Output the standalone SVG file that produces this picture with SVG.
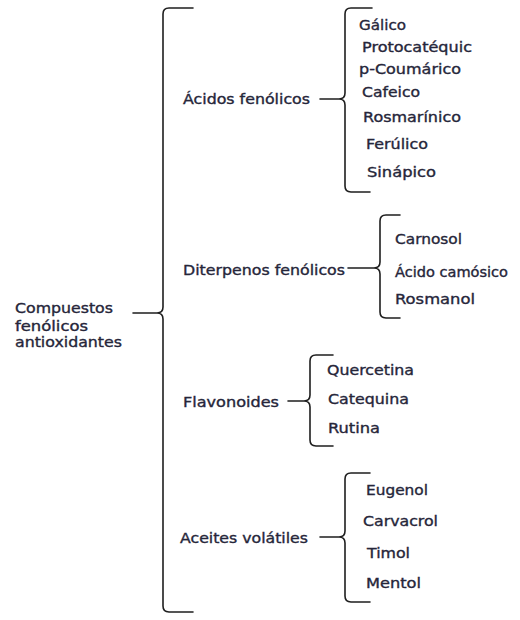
<svg xmlns="http://www.w3.org/2000/svg" width="520" height="620" viewBox="0 0 520 620">
<style>
text{font-family:"DejaVu Sans","Liberation Sans",sans-serif;font-size:13.7px;fill:#26263a;stroke:#26263a;stroke-width:0.35}
.br{fill:none;stroke:#1e1e1e;stroke-width:1.6;stroke-linecap:round;stroke-linejoin:round}
</style>
<rect width="520" height="620" fill="#fff"/>
<g id="connectors">
<path class="br" d="M193,8 L169,8 Q163,8 163,14 L163,307 Q163,313 157,313 L133,313 M157,313 Q163,313 163,319 L163,606 Q163,612 169,612 L193,612"/>
<path class="br" d="M372,8 L351,8 Q345,8 345,14 L345,93 Q345,99 339,99 L320,99 M339,99 Q345,99 345,105 L345,186 Q345,192 351,192 L370,192"/>
<path class="br" d="M400,215 L386,215 Q380,215 380,221 L380,262 Q380,268 374,268 L348,268 M374,268 Q380,268 380,274 L380,312 Q380,318 386,318 L400,318"/>
<path class="br" d="M333,355 L316,355 Q310,355 310,361 L310,395 Q310,401 304,401 L288,401 M304,401 Q310,401 310,407 L310,440 Q310,446 316,446 L333,446"/>
<path class="br" d="M370,473 L351,473 Q345,473 345,479 L345,531 Q345,537 339,537 L320,537 M339,537 Q345,537 345,543 L345,596 Q345,602 351,602 L370,602"/>
</g>
<g id="root">
<text x="15" y="313" textLength="98" lengthAdjust="spacingAndGlyphs">Compuestos</text>
<text x="15" y="331" textLength="73" lengthAdjust="spacingAndGlyphs">fenólicos</text>
<text x="15" y="347" textLength="107" lengthAdjust="spacingAndGlyphs">antioxidantes</text>
</g>
<g id="acidos"><text x="183" y="104" textLength="127" lengthAdjust="spacingAndGlyphs">Ácidos fenólicos</text></g>
<g id="galico"><text x="359" y="30" textLength="47" lengthAdjust="spacingAndGlyphs">Gálico</text></g>
<g id="protocatequic"><text x="362" y="52" textLength="110" lengthAdjust="spacingAndGlyphs">Protocatéquic</text></g>
<g id="pcoumarico"><text x="359" y="74" textLength="102" lengthAdjust="spacingAndGlyphs">p-Coumárico</text></g>
<g id="cafeico"><text x="362" y="97" textLength="58" lengthAdjust="spacingAndGlyphs">Cafeico</text></g>
<g id="rosmarinico"><text x="363" y="122" textLength="98" lengthAdjust="spacingAndGlyphs">Rosmarínico</text></g>
<g id="ferulico"><text x="366" y="149" textLength="62" lengthAdjust="spacingAndGlyphs">Ferúlico</text></g>
<g id="sinapico"><text x="367" y="177" textLength="69" lengthAdjust="spacingAndGlyphs">Sinápico</text></g>
<g id="diterpenos"><text x="183" y="275" textLength="162" lengthAdjust="spacingAndGlyphs">Diterpenos fenólicos</text></g>
<g id="carnosol"><text x="395" y="244" textLength="67" lengthAdjust="spacingAndGlyphs">Carnosol</text></g>
<g id="acidocamosico"><text x="395" y="277" textLength="113" lengthAdjust="spacingAndGlyphs">Ácido camósico</text></g>
<g id="rosmanol"><text x="395" y="304" textLength="80" lengthAdjust="spacingAndGlyphs">Rosmanol</text></g>
<g id="flavonoides"><text x="183" y="407" textLength="96" lengthAdjust="spacingAndGlyphs">Flavonoides</text></g>
<g id="quercetina"><text x="327" y="375" textLength="87" lengthAdjust="spacingAndGlyphs">Quercetina</text></g>
<g id="catequina"><text x="328" y="404" textLength="81" lengthAdjust="spacingAndGlyphs">Catequina</text></g>
<g id="rutina"><text x="328" y="433" textLength="52" lengthAdjust="spacingAndGlyphs">Rutina</text></g>
<g id="aceites"><text x="180" y="543" textLength="128" lengthAdjust="spacingAndGlyphs">Aceites volátiles</text></g>
<g id="eugenol"><text x="366" y="495" textLength="62" lengthAdjust="spacingAndGlyphs">Eugenol</text></g>
<g id="carvacrol"><text x="363" y="526" textLength="75" lengthAdjust="spacingAndGlyphs">Carvacrol</text></g>
<g id="timol"><text x="367" y="558" textLength="43" lengthAdjust="spacingAndGlyphs">Timol</text></g>
<g id="mentol"><text x="366" y="588" textLength="55" lengthAdjust="spacingAndGlyphs">Mentol</text></g>
</svg>
